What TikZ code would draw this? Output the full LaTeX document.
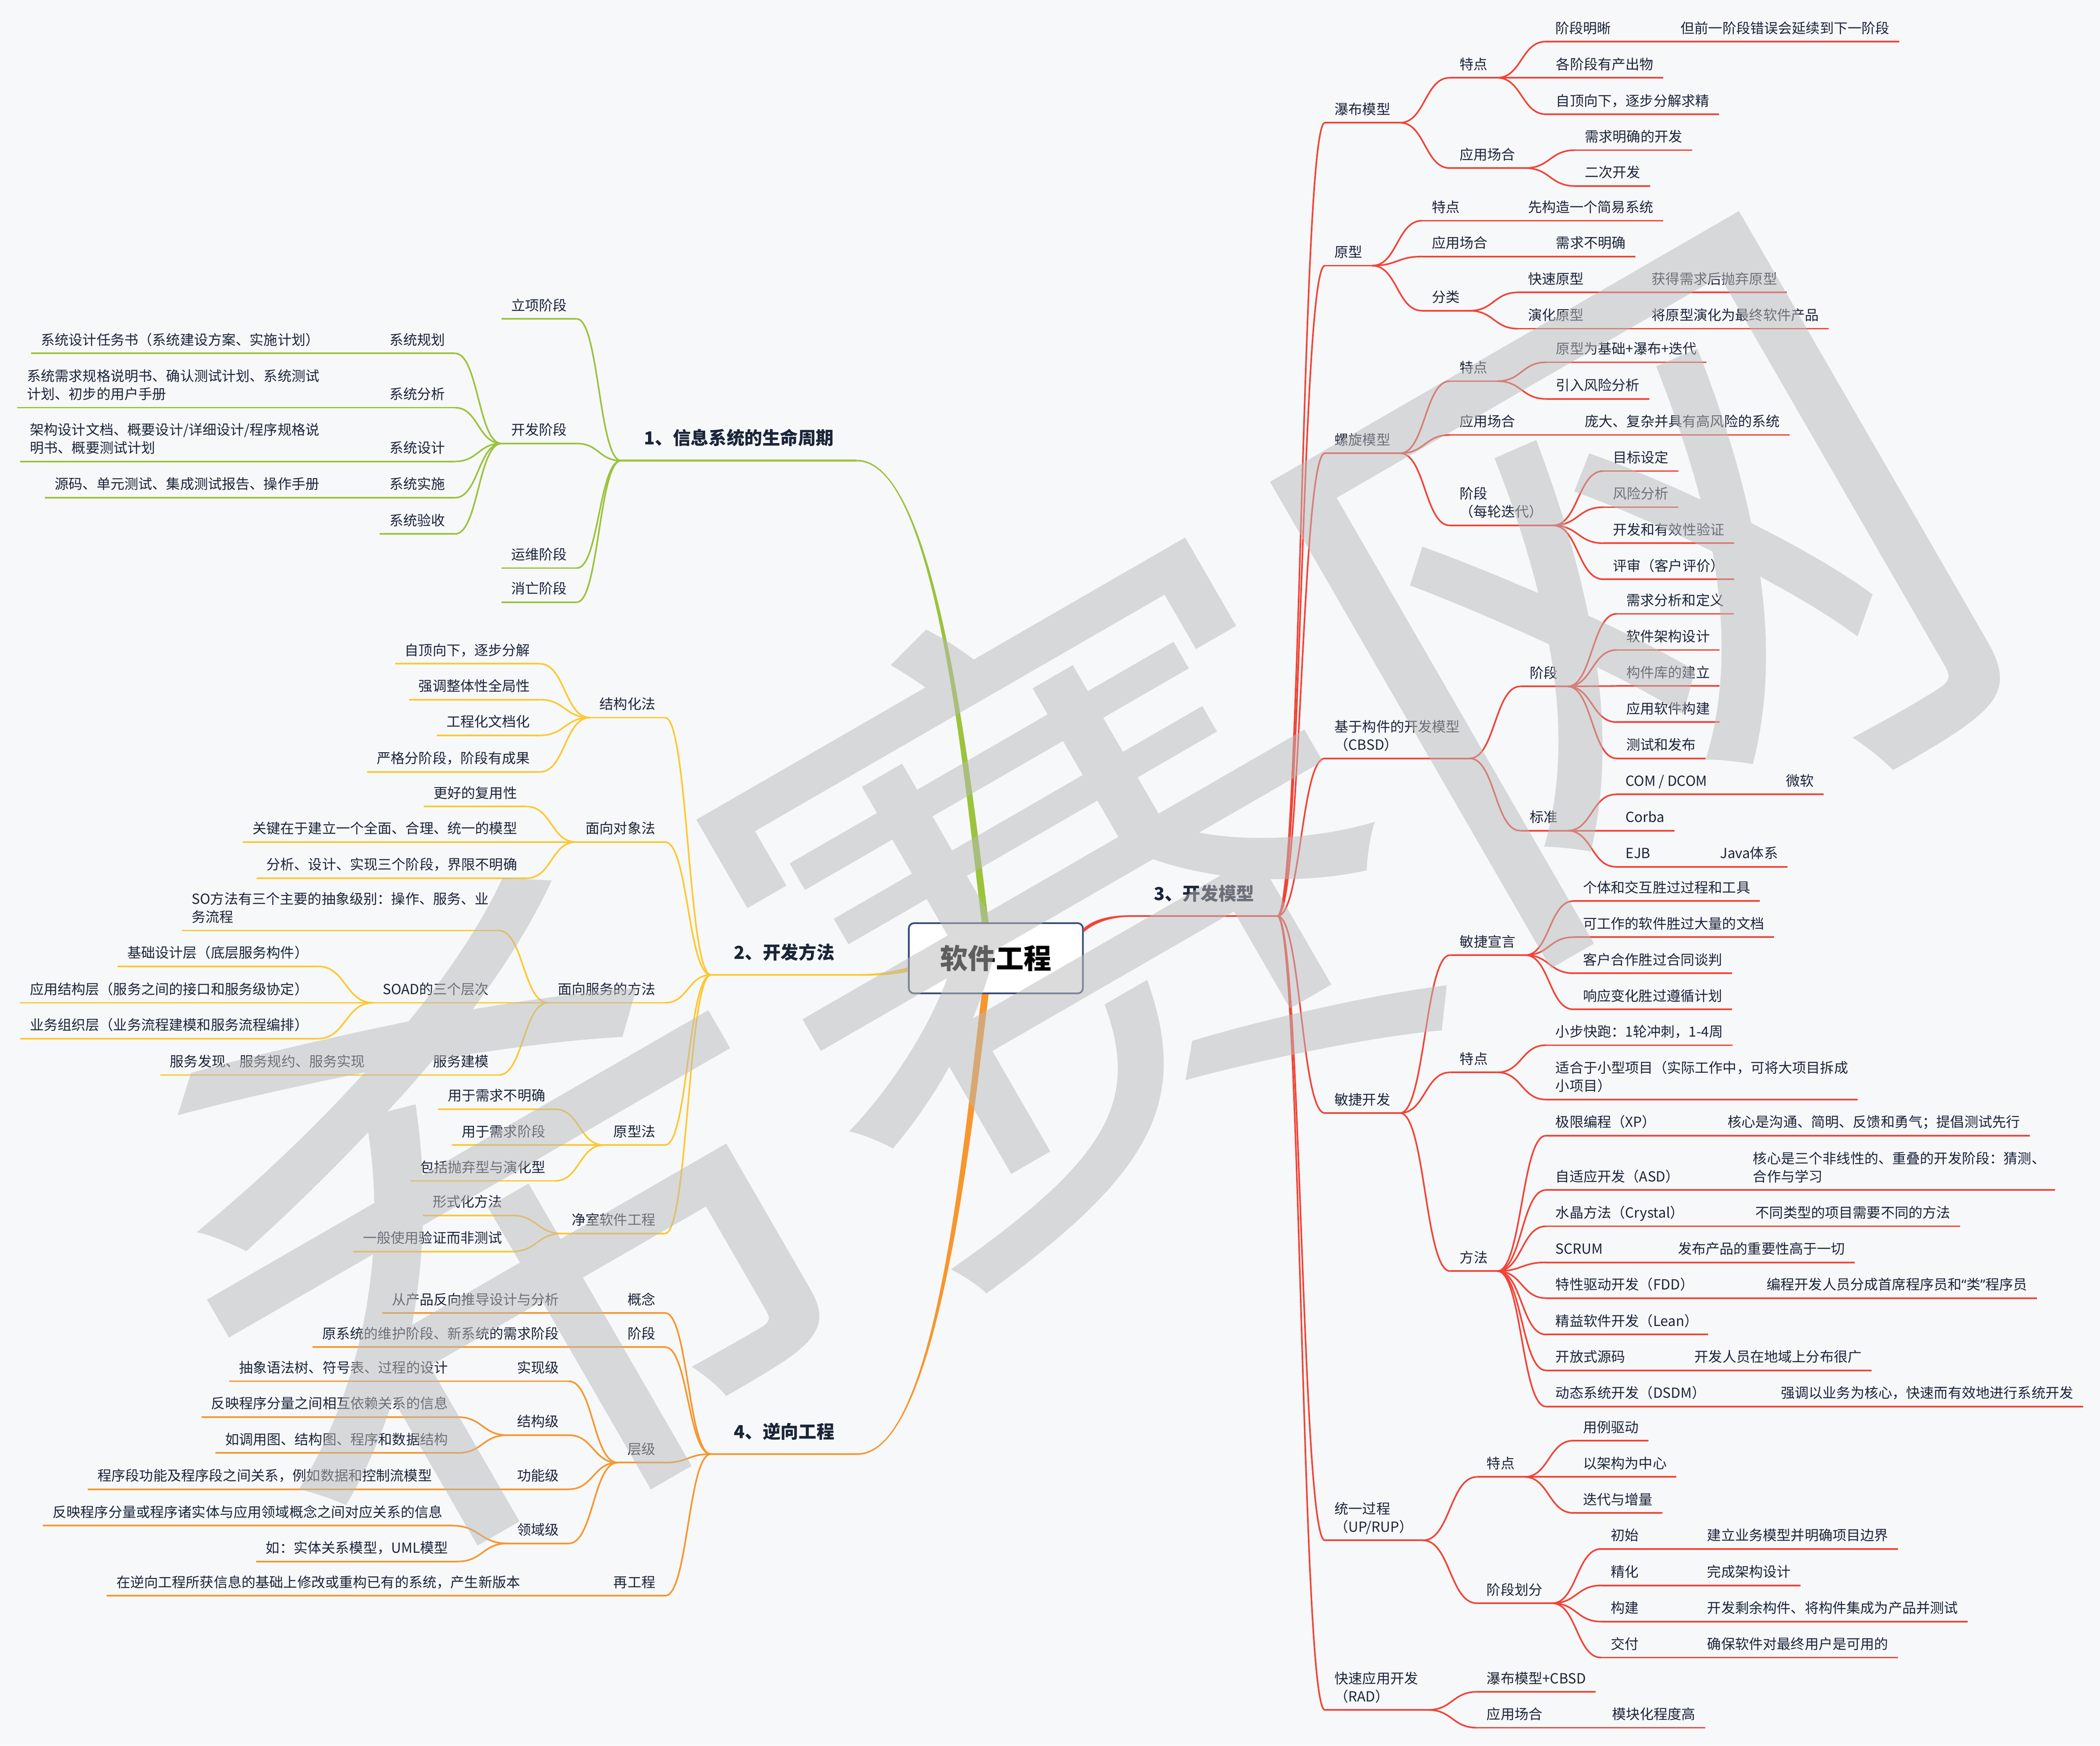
\documentclass[tikz,border=0pt]{standalone}
\usepackage{fontspec}
\setmainfont{Noto Sans CJK SC}
\newfontfamily\latinq{Noto Sans}
\usetikzlibrary{calc}
\definecolor{ink}{HTML}{1B2539}
\definecolor{paper}{HTML}{F7F8FA}
\definecolor{frame}{HTML}{3A4C74}
\definecolor{cgreen}{HTML}{9BC33C}
\definecolor{cyellow}{HTML}{FDC832}
\definecolor{cred}{HTML}{F24336}
\definecolor{corange}{HTML}{F7962D}
\definecolor{wmark}{HTML}{BABABA}
\tikzset{
  leaf/.style = {font=\fontsize{7.4pt}{9.6pt}\selectfont, text=ink, align=left,
    inner xsep=0.175cm, inner ysep=0.15cm, text depth=0pt},
  ll/.style = {leaf, anchor=south east},
  lr/.style = {leaf, anchor=south west},
  title/.style = {font=\bfseries\fontsize{9.5pt}{12pt}\selectfont, text=ink,
    inner xsep=0.425cm, inner ysep=0.29cm, text depth=0pt},
  root/.style = {draw=frame, fill=white, line width=0.9pt, rounded corners=0.1cm,
    minimum width=3.2525cm, minimum height=1.3125cm, inner sep=0pt,
    font=\bfseries\fontsize{14.75pt}{16pt}\selectfont},
  link/.style = {to path={let \p1=(\tikztostart), \p2=(\tikztotarget) in
    .. controls ({0.5*\x1+0.5*\x2},\y1) and ({0.5*\x1+0.5*\x2},\y2) .. (\tikztotarget)}},
  gl/.style = {draw=cgreen, line width=0.85pt},
  yl/.style = {draw=cyellow, line width=0.85pt},
  rl/.style = {draw=cred, line width=0.85pt},
  ol/.style = {draw=corange, line width=0.85pt}
}
\begin{document}
\begin{tikzpicture}[x=0.025cm, y=-0.025cm]
  \useasboundingbox (0,0) rectangle (1569.25,1304.5);
  \fill[paper] (0,0) rectangle (1569.25,1304.5);

  %% Root and main topics
  \node[root] (root) at (744.15,716.05) {软件工程};
  \node[title, anchor=south east] (t1) at (640.4,344.2) {1、信息系统的生命周期};
  \node[title, anchor=south east] (t2) at (640.8,728.5) {2、开发方法};
  \node[title, anchor=south west] (t3) at (845,684.5) {3、开发模型};
  \node[title, anchor=south east] (t4) at (640.8,1086.5) {4、逆向工程};

  % Main branches
  \coordinate (g0) at ($(root.north)+(-8,0)$);
  \coordinate (y0) at ($(root.west)+(0,8.5)$);
  \coordinate (r0) at ($(root.east)+(0,-21)$);
  \coordinate (o0) at ($(root.south)+(-8,0)$);
  \fill[cgreen] ($(t1.south east)+(0,-0.6)$) .. controls +(59,0) and +(-13.5,-110) .. ($(g0)+(2.6,0)$)
    -- ($(g0)+(-2.6,0)$) .. controls +(-13.5,-110) and +(59,0) .. ($(t1.south east)+(0,0.6)$) -- cycle;
  \fill[cyellow] ($(t2.south east)+(0,-0.6)$) .. controls +(20,0) and +(-10,2) .. ($(y0)+(0,-1.6)$)
    -- ($(y0)+(0,1.6)$) .. controls +(-10,2) and +(20,0) .. ($(t2.south east)+(0,0.6)$) -- cycle;
  \fill[cred] ($(r0)+(0,-1.5)$) .. controls +(8,-7) and +(-15,0) .. ($(t3.south west)+(0,-0.6)$)
    -- ($(t3.south west)+(0,0.6)$) .. controls +(-15,0) and +(8,-7) .. ($(r0)+(0,1.5)$) -- cycle;
  \fill[corange] ($(o0)+(-2.6,0)$) .. controls +(-13.5,110) and +(59,0) .. ($(t4.south east)+(0,-0.6)$)
    -- ($(t4.south east)+(0,0.6)$) .. controls +(59,0) and +(-13.5,110) .. ($(o0)+(2.6,0)$) -- cycle;

  %% 1 Life cycle
  \node[ll] (a1) at (431,238.3) {立项阶段};
  \node[ll] (a2) at (431,331.4) {开发阶段};
  \node[ll] (a21) at (340,264) {系统规划};
  \node[ll] (a211) at (246,264) {系统设计任务书（系统建设方案、实施计划）};
  \node[ll] (a22) at (340,304.6) {系统分析};
  \node[ll] (a221) at (246,304.6) {系统需求规格说明书、确认测试计划、系统测试\\计划、初步的用户手册};
  \node[ll] (a23) at (340,344.8) {系统设计};
  \node[ll] (a231) at (246,344.8) {架构设计文档、概要设计/详细设计/程序规格说\\明书、概要测试计划};
  \node[ll] (a24) at (340,371.9) {系统实施};
  \node[ll] (a241) at (246,371.9) {源码、单元测试、集成测试报告、操作手册};
  \node[ll] (a25) at (340,399) {系统验收};
  \node[ll] (a3) at (431,424.5) {运维阶段};
  \node[ll] (a4) at (431,450) {消亡阶段};

  %% 2 Methods
  \node[ll] (b1) at (497,536.2) {结构化法};
  \node[ll] (b11) at (403.4,496) {自顶向下，逐步分解};
  \node[ll] (b12) at (403.4,522.8) {强调整体性全局性};
  \node[ll] (b13) at (403.4,549.5) {工程化文档化};
  \node[ll] (b14) at (403.4,576.8) {严格分阶段，阶段有成果};
  \node[ll] (b2) at (497,629.2) {面向对象法};
  \node[ll] (b21) at (393.7,602.7) {更好的复用性};
  \node[ll] (b22) at (393.7,629.2) {关键在于建立一个全面、合理、统一的模型};
  \node[ll] (b23) at (393.7,656.2) {分析、设计、实现三个阶段，界限不明确};
  \node[ll] (b3) at (497,749.3) {面向服务的方法};
  \node[ll] (b31) at (372.6,695.3) {SO方法有三个主要的抽象级别：操作、服务、业\\务流程};
  \node[ll] (b32) at (372.6,749.3) {SOAD的三个层次};
  \node[ll] (b321) at (237.7,722.1) {基础设计层（底层服务构件）};
  \node[ll] (b322) at (237.7,749.3) {应用结构层（服务之间的接口和服务级协定）};
  \node[ll] (b323) at (237.7,776.1) {业务组织层（业务流程建模和服务流程编排）};
  \node[ll] (b33) at (372.6,803.3) {服务建模};
  \node[ll] (b331) at (280,803.3) {服务发现、服务规约、服务实现};
  \node[ll] (b4) at (497,855.6) {原型法};
  \node[ll] (b41) at (414.8,828.8) {用于需求不明确};
  \node[ll] (b42) at (414.8,855.6) {用于需求阶段};
  \node[ll] (b43) at (414.8,882.4) {包括抛弃型与演化型};
  \node[ll] (b5) at (497,921.7) {净室软件工程};
  \node[ll] (b51) at (382.6,908.2) {形式化方法};
  \node[ll] (b52) at (382.6,935.2) {一般使用验证而非测试};

  %% 4 Reverse engineering
  \node[ll] (d1) at (497,981.1) {概念};
  \node[ll] (d11) at (425,981.1) {从产品反向推导设计与分析};
  \node[ll] (d2) at (497,1006.6) {阶段};
  \node[ll] (d21) at (425,1006.6) {原系统的维护阶段、新系统的需求阶段};
  \node[ll] (d3) at (497,1092.9) {层级};
  \node[ll] (d31) at (425,1032.1) {实现级};
  \node[ll] (d311) at (342,1032.1) {抽象语法树、符号表、过程的设计};
  \node[ll] (d32) at (425,1072.4) {结构级};
  \node[ll] (d321) at (342,1058.9) {反映程序分量之间相互依赖关系的信息};
  \node[ll] (d322) at (342,1085.7) {如调用图、结构图、程序和数据结构};
  \node[ll] (d33) at (425,1112.8) {功能级};
  \node[ll] (d331) at (330,1112.8) {程序段功能及程序段之间关系，例如数据和控制流模型};
  \node[ll] (d34) at (425,1153.3) {领域级};
  \node[ll] (d341) at (338,1140) {反映程序分量或程序诸实体与应用领域概念之间对应关系的信息};
  \node[ll] (d342) at (342,1166.8) {如：实体关系模型，UML模型};
  \node[ll] (d4) at (497,1192.4) {再工程};
  \node[ll] (d41) at (396,1192.4) {在逆向工程所获信息的基础上修改或重构已有的系统，产生新版本};

  %% 3 Process models
  \node[lr] (c1) at (990,91.7) {瀑布模型};
  \node[lr] (c11) at (1083.4,58.1) {特点};
  \node[lr] (c111) at (1155,31.1) {阶段明晰};
  \node[lr] (c1111) at (1248.6,31.1) {但前一阶段错误会延续到下一阶段};
  \node[lr] (c112) at (1155.5,58.1) {各阶段有产出物};
  \node[lr] (c113) at (1155.5,85.4) {自顶向下，逐步分解求精};
  \node[lr] (c12) at (1083.4,125.6) {应用场合};
  \node[lr] (c121) at (1177,112.2) {需求明确的开发};
  \node[lr] (c122) at (1177,139) {二次开发};
  \node[lr] (c2) at (990,198.5) {原型};
  \node[lr] (c21) at (1062.7,164.9) {特点};
  \node[lr] (c211) at (1134.5,164.9) {先构造一个简易系统};
  \node[lr] (c22) at (1062.7,191.7) {应用场合};
  \node[lr] (c221) at (1155.5,191.7) {需求不明确};
  \node[lr] (c23) at (1062.7,232.2) {分类};
  \node[lr] (c231) at (1134.5,218.5) {快速原型};
  \node[lr] (c2311) at (1227,218.5) {获得需求后抛弃原型};
  \node[lr] (c232) at (1134.5,245.6) {演化原型};
  \node[lr] (c2321) at (1227,245.6) {将原型演化为最终软件产品};
  \node[lr] (c3) at (990,338.7) {螺旋模型};
  \node[lr] (c31) at (1083.4,284.8) {特点};
  \node[lr] (c311) at (1155.5,270.7) {原型为基础+瀑布+迭代};
  \node[lr] (c312) at (1155.5,298.1) {引入风险分析};
  \node[lr] (c32) at (1083.4,325) {应用场合};
  \node[lr] (c321) at (1177,325) {庞大、复杂并具有高风险的系统};
  \node[lr] (c33) at (1083.4,392.6) {阶段\\（每轮迭代）};
  \node[lr] (c331) at (1198,352) {目标设定};
  \node[lr] (c332) at (1198,379) {风险分析};
  \node[lr] (c333) at (1198,405.9) {开发和有效性验证};
  \node[lr] (c334) at (1198,432.8) {评审（客户评价）};
  \node[lr] (c4) at (990,566.7) {基于构件的开发模型\\（CBSD）};
  \node[lr] (c41) at (1136,512.9) {阶段};
  \node[lr] (c411) at (1208,458.7) {需求分析和定义};
  \node[lr] (c412) at (1208,485.7) {软件架构设计};
  \node[lr] (c413) at (1208,512.6) {构件库的建立};
  \node[lr] (c414) at (1208,539.6) {应用软件构建};
  \node[lr] (c415) at (1208,566.7) {测试和发布};
  \node[lr] (c42) at (1136,620.7) {标准};
  \node[lr] (c421) at (1207.5,593.6) {COM / DCOM};
  \node[lr] (c4211) at (1327.3,593.6) {微软};
  \node[lr] (c422) at (1207.5,620.7) {Corba};
  \node[lr] (c423) at (1207.5,647.7) {EJB};
  \node[lr] (c4231) at (1278,647.7) {Java体系};
  \node[lr] (c5) at (990,831.7) {敏捷开发};
  \node[lr] (c51) at (1083.6,713.7) {敏捷宣言};
  \node[lr] (c511) at (1175.7,673.3) {个体和交互胜过过程和工具};
  \node[lr] (c512) at (1175.7,700.3) {可工作的软件胜过大量的文档};
  \node[lr] (c513) at (1175.7,727.2) {客户合作胜过合同谈判};
  \node[lr] (c514) at (1175.7,754.2) {响应变化胜过遵循计划};
  \node[lr] (c52) at (1083.6,801.3) {特点};
  \node[lr] (c521) at (1155.2,781) {小步快跑：1轮冲刺，1-4周};
  \node[lr] (c522) at (1155.2,821.6) {适合于小型项目（实际工作中，可将大项目拆成\\小项目）};
  \node[lr] (c53) at (1083.6,949.8) {方法};
  \node[lr] (c531) at (1155.2,848.6) {极限编程（XP）};
  \node[lr] (c5311) at (1283.7,848.6) {核心是沟通、简明、反馈和勇气；提倡测试先行};
  \node[lr] (c532) at (1155.2,889.2) {自适应开发（ASD）};
  \node[lr] (c5321) at (1302.7,889.2) {核心是三个非线性的、重叠的开发阶段：猜测、\\合作与学习};
  \node[lr] (c533) at (1155.2,916.3) {水晶方法（Crystal）};
  \node[lr] (c5331) at (1304.5,916.3) {不同类型的项目需要不同的方法};
  \node[lr] (c534) at (1155.2,943.3) {SCRUM};
  \node[lr] (c5341) at (1246.6,943.3) {发布产品的重要性高于一切};
  \node[lr] (c535) at (1155.2,970) {特性驱动开发（FDD）};
  \node[lr] (c5351) at (1312.9,970) {编程开发人员分成首席程序员和{\latinq “}类{\latinq ”}程序员};
  \node[lr] (c536) at (1155.2,997.2) {精益软件开发（Lean）};
  \node[lr] (c537) at (1155.2,1024) {开放式源码};
  \node[lr] (c5371) at (1259,1024) {开发人员在地域上分布很广};
  \node[lr] (c538) at (1155.2,1051) {动态系统开发（DSDM）};
  \node[lr] (c5381) at (1323.5,1051) {强调以业务为核心，快速而有效地进行系统开发};
  \node[lr] (c6) at (990,1151) {统一过程\\（UP/RUP）};
  \node[lr] (c61) at (1103.7,1103.6) {特点};
  \node[lr] (c611) at (1175.7,1076.5) {用例驱动};
  \node[lr] (c612) at (1175.7,1103.6) {以架构为中心};
  \node[lr] (c613) at (1175.7,1130.5) {迭代与增量};
  \node[lr] (c62) at (1103.7,1198) {阶段划分};
  \node[lr] (c621) at (1196.5,1157.4) {初始};
  \node[lr] (c6211) at (1268.5,1157.4) {建立业务模型并明确项目边界};
  \node[lr] (c622) at (1196.5,1184.7) {精化};
  \node[lr] (c6221) at (1268.5,1184.7) {完成架构设计};
  \node[lr] (c623) at (1196.5,1211.7) {构建};
  \node[lr] (c6231) at (1268.5,1211.7) {开发剩余构件、将构件集成为产品并测试};
  \node[lr] (c624) at (1196.5,1238.6) {交付};
  \node[lr] (c6241) at (1268.5,1238.6) {确保软件对最终用户是可用的};
  \node[lr] (c7) at (990,1277.7) {快速应用开发\\（RAD）};
  \node[lr] (c71) at (1103.7,1264.2) {瀑布模型+CBSD};
  \node[lr] (c72) at (1103.7,1291) {应用场合};
  \node[lr] (c721) at (1197.3,1291) {模块化程度高};

  %% Underlines
  \draw[gl, line width=1pt] (t1.south west) -- (t1.south east);
  \draw[yl, line width=1pt] (t2.south west) -- (t2.south east);
  \draw[rl, line width=1pt] (t3.south west) -- (t3.south east);
  \draw[ol, line width=1pt] (t4.south west) -- (t4.south east);
  \foreach \nd in {a1,a2,a21,a211,a22,a221,a23,a231,a24,a241,a25,a3,a4}
    \draw[gl] (\nd.south west) -- (\nd.south east);
  \foreach \nd in {b1,b11,b12,b13,b14,b2,b21,b22,b23,b3,b31,b32,b321,b322,b323,b33,b331,
      b4,b41,b42,b43,b5,b51,b52}
    \draw[yl] (\nd.south west) -- (\nd.south east);
  \foreach \nd in {d1,d11,d2,d21,d3,d31,d311,d32,d321,d322,d33,d331,d34,d341,d342,d4,d41}
    \draw[ol] (\nd.south west) -- (\nd.south east);
  \foreach \nd in {c1,c11,c111,c1111,c112,c113,c12,c121,c122,c2,c21,c211,c22,c221,c23,c231,
      c2311,c232,c2321,c3,c31,c311,c312,c32,c321,c33,c331,c332,c333,c334,c4,c41,c411,c412,
      c413,c414,c415,c42,c421,c4211,c422,c423,c4231,c5,c51,c511,c512,c513,c514,c52,c521,
      c522,c53,c531,c5311,c532,c5321,c533,c5331,c534,c5341,c535,c5351,c536,c537,c5371,
      c538,c5381,c6,c61,c611,c612,c613,c62,c621,c6211,c622,c6221,c623,c6231,c624,c6241,
      c7,c71,c72,c721}
    \draw[rl] (\nd.south west) -- (\nd.south east);

  %% Connectors
  \foreach \pa/\ch in {t1/a1,t1/a2,t1/a3,t1/a4,a2/a21,a2/a22,a2/a23,a2/a24,a2/a25,
      a21/a211,a22/a221,a23/a231,a24/a241}
    \draw[gl] (\pa.south west) to[link] (\ch.south east);
  \foreach \pa/\ch in {t2/b1,t2/b2,t2/b3,t2/b4,t2/b5,b1/b11,b1/b12,b1/b13,b1/b14,
      b2/b21,b2/b22,b2/b23,b3/b31,b3/b32,b3/b33,b32/b321,b32/b322,b32/b323,b33/b331,
      b4/b41,b4/b42,b4/b43,b5/b51,b5/b52}
    \draw[yl] (\pa.south west) to[link] (\ch.south east);
  \foreach \pa/\ch in {t4/d1,t4/d2,t4/d3,t4/d4,d1/d11,d2/d21,d3/d31,d3/d32,d3/d33,d3/d34,
      d31/d311,d32/d321,d32/d322,d33/d331,d34/d341,d34/d342,d4/d41}
    \draw[ol] (\pa.south west) to[link] (\ch.south east);
  \foreach \pa/\ch in {t3/c1,t3/c2,t3/c3,t3/c4,t3/c5,t3/c6,t3/c7,
      c1/c11,c1/c12,c11/c111,c111/c1111,c11/c112,c11/c113,c12/c121,c12/c122,
      c2/c21,c2/c22,c2/c23,c21/c211,c22/c221,c23/c231,c23/c232,c231/c2311,c232/c2321,
      c3/c31,c3/c32,c3/c33,c31/c311,c31/c312,c32/c321,c33/c331,c33/c332,c33/c333,c33/c334,
      c4/c41,c4/c42,c41/c411,c41/c412,c41/c413,c41/c414,c41/c415,
      c42/c421,c42/c422,c42/c423,c421/c4211,c423/c4231,
      c5/c51,c5/c52,c5/c53,c51/c511,c51/c512,c51/c513,c51/c514,c52/c521,c52/c522,
      c53/c531,c53/c532,c53/c533,c53/c534,c53/c535,c53/c536,c53/c537,c53/c538,
      c531/c5311,c532/c5321,c533/c5331,c534/c5341,c535/c5351,c537/c5371,c538/c5381,
      c6/c61,c6/c62,c61/c611,c61/c612,c61/c613,c62/c621,c62/c622,c62/c623,c62/c624,
      c621/c6211,c622/c6221,c623/c6231,c624/c6241,c7/c71,c7/c72,c72/c721}
    \draw[rl] (\pa.south east) to[link] (\ch.south west);

  % Watermark
  \node[font=\fontsize{348pt}{348pt}\selectfont, text=wmark, opacity=0.51, rotate=30,
    inner sep=0pt] (mark) at (797,672) {希赛网};

\end{tikzpicture}
\end{document}
